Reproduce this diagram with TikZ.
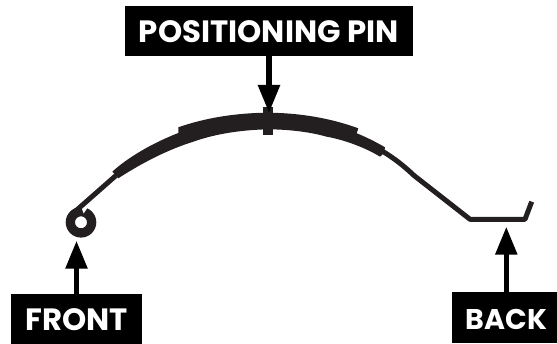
\documentclass[tikz,border=0pt]{standalone}
\usepackage{fontspec}
\setmainfont{Poppins}
\usetikzlibrary{arrows.meta}
\definecolor{ink}{HTML}{231F20}
\tikzset{
  x=1pt,y=-1pt,
  labelbox/.style={fill=black,text=white,font=\fontsize{30.8}{33}\selectfont\bfseries,inner xsep=0pt,inner ysep=0pt,text depth=13.3pt},
  pointer/.style={-{Triangle[length=28pt,width=21pt]},line width=5.5pt,shorten >=0pt},
  springfill/.style={fill=ink,draw=none},
  thinleaf/.style={draw=ink,line width=5pt,line join=round},
}
\begin{document}
\begin{tikzpicture}
\useasboundingbox (0,0) rectangle (557,344);
% spring leaf stack
\fill[ink,even odd rule] (81,222.3) circle[radius=15.3pt] circle[radius=6pt];
\fill[white] (83.6,213.5) -- (87.8,207.5) -- (85.5,204) -- (81.5,207.5) -- cycle;
\draw[thinleaf] (74.5,212) -- (116,175.5);
\draw[thinleaf] (383,151.5) .. controls (395,159) and (404,166) .. (414,175.5) -- (470,219.3) -- (525,219.3) -- (531.7,201.7);
\fill[springfill] (112.3,171.7) .. controls (126,159) and (150,144) .. (178.3,133) -- (178.3,127.3)
  .. controls (205,118) and (235,113) .. (268,112.7)
  .. controls (300,113) and (330,118) .. (358.3,128.3) -- (356.7,133.3)
  .. controls (366,137) and (376,142) .. (385,147.3) -- (384,153) -- (380,156.7)
  .. controls (366,148) and (345,140) .. (326.7,136.7)
  .. controls (310,132) and (290,129.5) .. (268,129.3)
  .. controls (240,130) and (215,134) .. (193.3,141.7)
  .. controls (170,149) and (145,161) .. (118.3,178.3) -- (115,174.5) -- cycle;
\fill[ink] (263.3,106.7) rectangle (273.3,135);
% labels
\node[labelbox,minimum width=287.7pt,text height=36.7pt] (pin) at (268.85,31) {POSITIONING PIN};
\node[labelbox,minimum width=131pt,text height=36.7pt] (front) at (76.5,319) {FRONT};
\node[labelbox,font=\fontsize{28.5}{31}\selectfont\bfseries,minimum width=105pt,text height=37.6pt] (back) at (504.5,317.85) {\hspace*{4pt}BACK};
% pointer ends
\coordinate (pintip) at (269,113);
\coordinate (fronttip) at (76.5,240.7);
\coordinate (backtip) at (506.3,226.7);
\draw[pointer] (pin.south -| pintip) -- (pintip);
\draw[pointer] (front.north -| fronttip) -- (fronttip);
\draw[pointer] (back.north -| backtip) -- (backtip);
\end{tikzpicture}
\end{document}
